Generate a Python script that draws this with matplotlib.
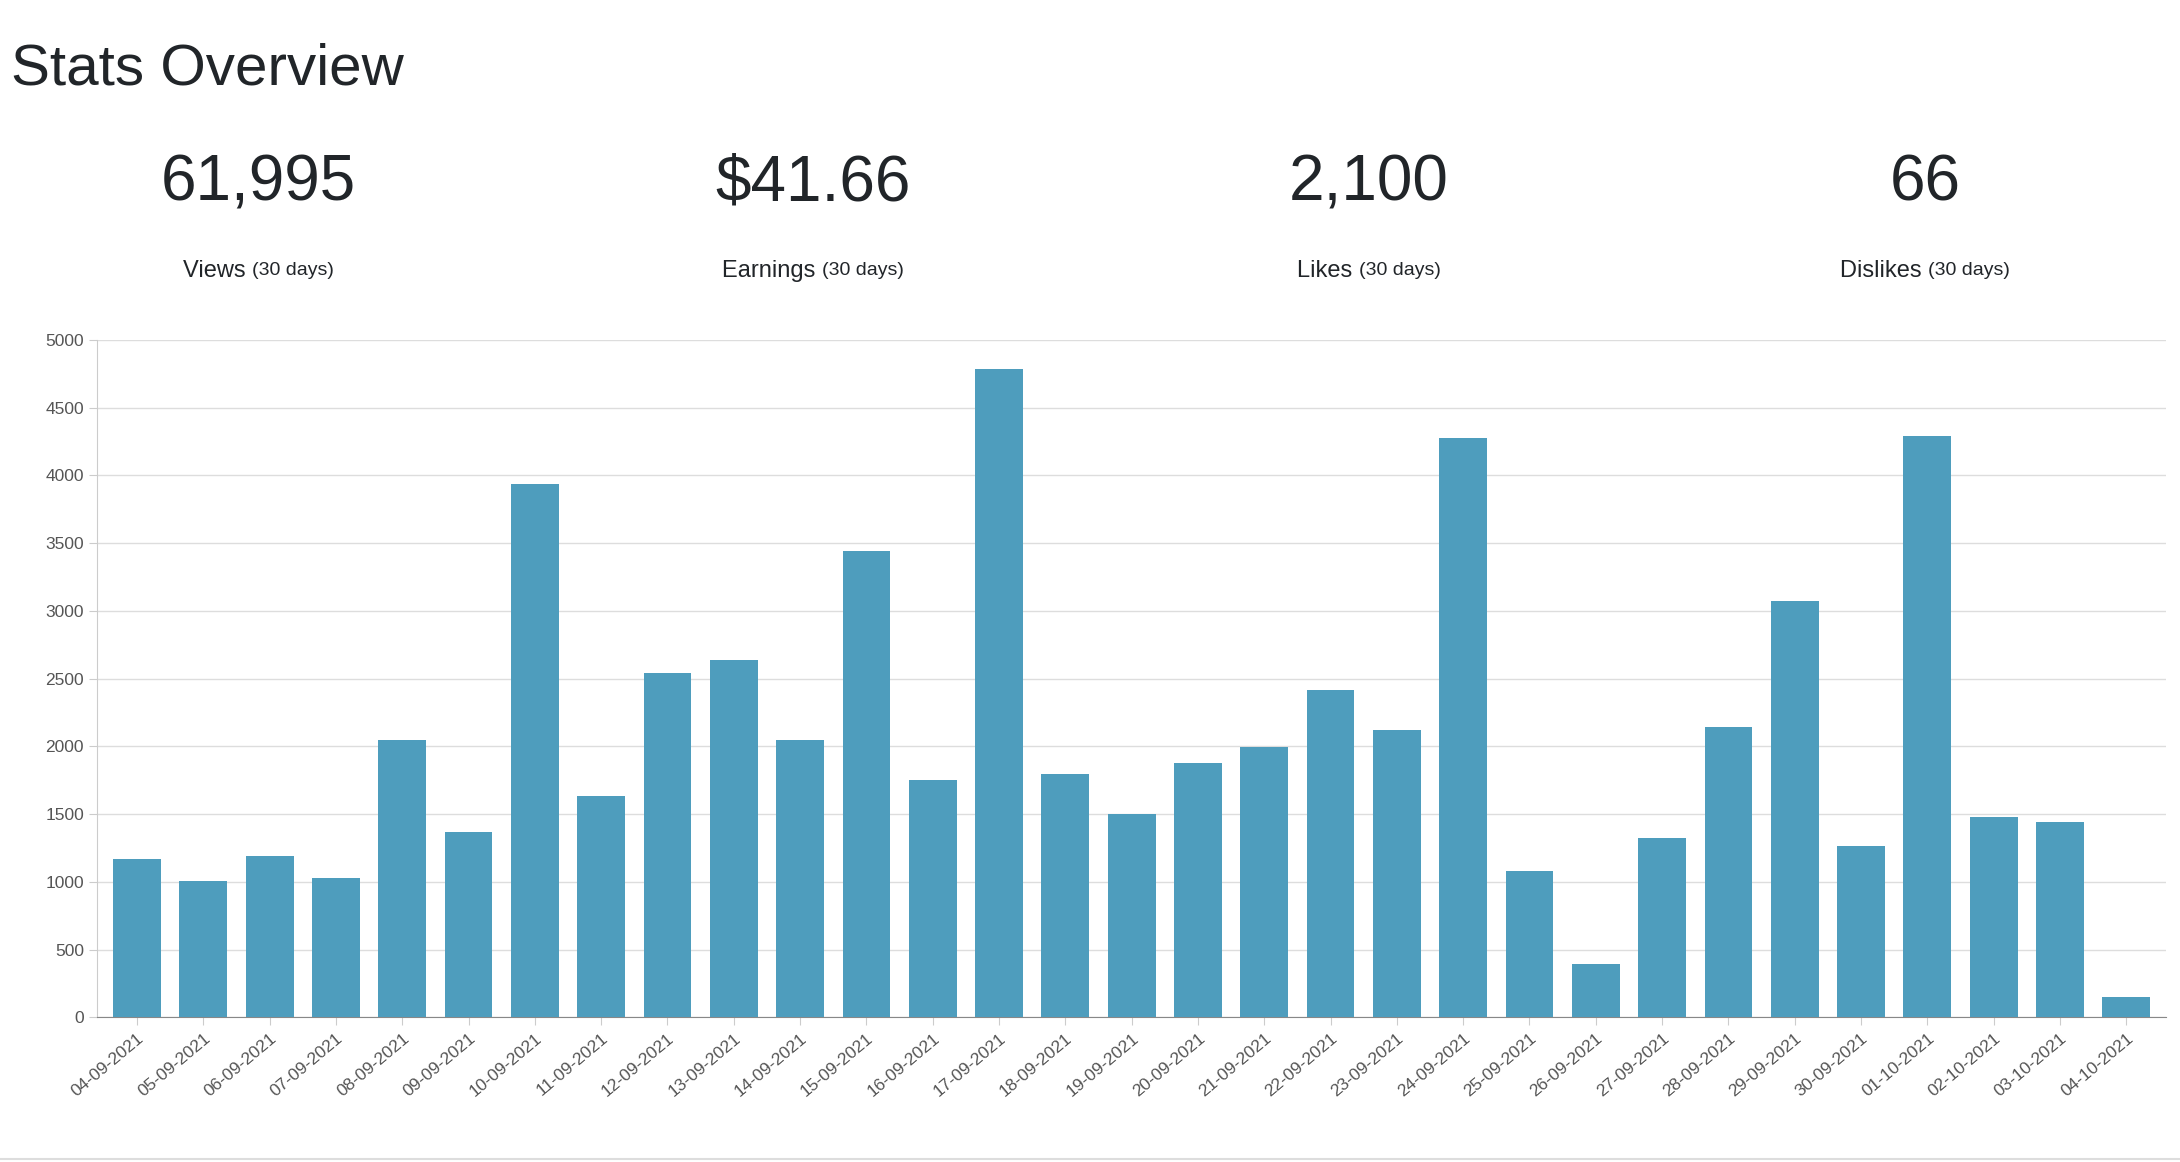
import matplotlib
matplotlib.use("Agg")
import matplotlib.pyplot as plt
import numpy as np

dates = ["04-09-2021", "05-09-2021", "06-09-2021", "07-09-2021", "08-09-2021",
         "09-09-2021", "10-09-2021", "11-09-2021", "12-09-2021", "13-09-2021",
         "14-09-2021", "15-09-2021", "16-09-2021", "17-09-2021", "18-09-2021",
         "19-09-2021", "20-09-2021", "21-09-2021", "22-09-2021", "23-09-2021",
         "24-09-2021", "25-09-2021", "26-09-2021", "27-09-2021", "28-09-2021",
         "29-09-2021", "30-09-2021", "01-10-2021", "02-10-2021", "03-10-2021",
         "04-10-2021"]
views = [1170, 1010, 1195, 1030, 2045, 1370, 3940, 1635, 2540, 2635,
         2050, 3445, 1750, 4785, 1795, 1505, 1880, 1995, 2420, 2120,
         4275, 1080, 395, 1325, 2145, 3070, 1265, 4295, 1480, 1440, 150]

stat_values = ["61,995", "$41.66", "2,100", "66"]
stat_names = ["Views", "Earnings", "Likes", "Dislikes"]

plt.rcParams["font.family"] = ["Liberation Sans", "DejaVu Sans"]
txt = "#212529"

fig = plt.figure(figsize=(21.8, 11.62), dpi=100)
fig.text(0.005, 0.94, "Stats Overview", fontsize=42, color=txt, va="center", ha="left")

xs = [0.1186, 0.373, 0.628, 0.883]
for x, v, n in zip(xs, stat_values, stat_names):
    fig.text(x, 0.842, v, fontsize=46, color=txt, ha="center", va="center")
    fig.text(x, 0.767, n + " ", fontsize=17, color=txt, ha="right", va="center",
             transform=fig.transFigure)
    fig.text(x + 0.000, 0.767, "", fontsize=1)
for x, n in zip(xs, stat_names):
    pass

ax = fig.add_axes([0.0446, 0.1244, 0.949, 0.583])
pos = np.arange(len(dates))
ax.bar(pos, views, width=0.72, color="#4e9dbd", zorder=3)
ax.set_xlim(-0.6, len(dates) - 0.4)
ax.set_ylim(0, 5000)
ax.set_yticks(range(0, 5001, 500))
ax.set_xticks(pos)
ax.set_xticklabels(dates, rotation=40, ha="right", rotation_mode="anchor")
ax.tick_params(labelsize=12.5, colors="#555555", length=6)
ax.tick_params(axis="x", colors="#cccccc", labelcolor="#555555")
ax.tick_params(axis="y", colors="#cccccc", labelcolor="#555555")
ax.grid(axis="y", color="#dddddd", lw=1, zorder=0)
for s in ["top", "right"]:
    ax.spines[s].set_visible(False)
ax.spines["left"].set_color("#cccccc")
ax.spines["bottom"].set_color("#888888")

# second part of the stat labels: "(30 days)"
fig.canvas.draw()
r = fig.canvas.get_renderer()
for t in list(fig.texts):
    if t.get_text().strip() in stat_names:
        bb = t.get_window_extent(r)
        w2 = fig.text(0, 0, "(30 days)", fontsize=14, color=txt, va="center")
        w = w2.get_window_extent(r).width
        shift = (w + bb.width) / 2
        x0 = t.get_position()[0]
        W = fig.bbox.width
        t.set_position((x0 - w / 2 / W + bb.width / 2 / W, 0.767))
        w2.set_position((x0 - w / 2 / W + bb.width / 2 / W, 0.767))
        w2.set_ha("left")

fig.add_artist(plt.Line2D([0, 1], [0.003, 0.003], color="#dddddd", lw=1.5))
fig.savefig("out.png", dpi=100)
